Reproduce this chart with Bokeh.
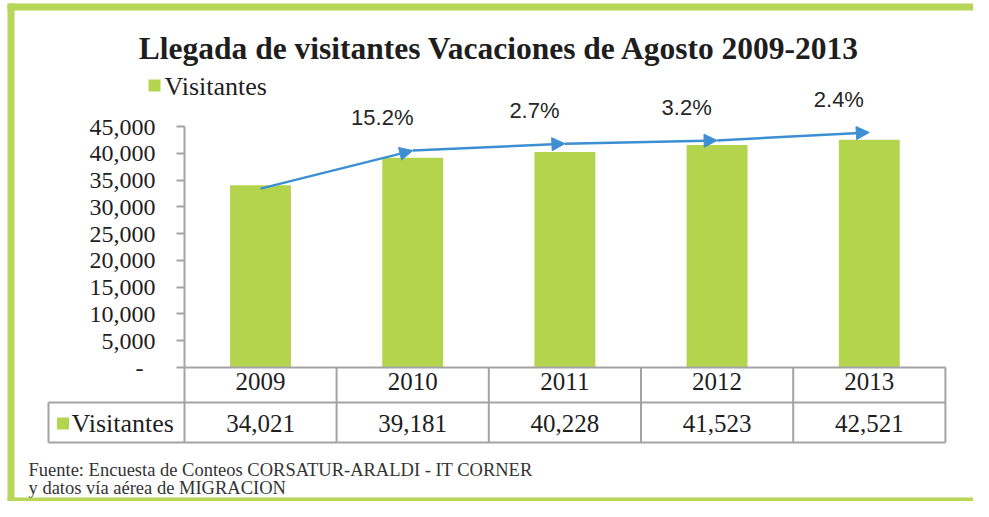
from bokeh.plotting import figure
from bokeh.models import Range1d, FixedTicker, NumeralTickFormatter, Arrow, NormalHead, ColumnDataSource
from bokeh.core.properties import value
from bokeh.embed import file_html
from bokeh.resources import INLINE

# ---------------- data ----------------
years = ["2009", "2010", "2011", "2012", "2013"]
visitors = [34021, 39181, 40228, 41523, 42521]
trend = [33400, 40500, 41800, 42400, 43900]          # arrow path
y_ticks = [0, 5000, 10000, 15000, 20000, 25000, 30000, 35000, 40000, 45000]
series_name = "Visitantes"
title_text = "Llegada de visitantes  Vacaciones de Agosto 2009-2013"
source_lines = ["Fuente: Encuesta de Conteos CORSATUR-ARALDI - IT CORNER",
                "y datos vía aérea de MIGRACION"]

idx = list(range(len(years)))
pct = [f"{(visitors[i] / visitors[i - 1] - 1) * 100:.1f}%" for i in range(1, len(visitors))]

# ---------------- layout helpers (pixel -> data) ----------------
W, H = 973, 501
X0, DX = 260.0, 152.2
Y0, KY = 367.0, 241.0 / 45000.0


def dx(px):
    return (px - X0) / DX


def dy(py):
    return (Y0 - py) / KY


def ly(n):
    return n / KY


GREEN = "#b5d44e"
BORDER = "#b8d657"
BLUE = "#3d8fd3"
GRAY = "#a3a3a3"
TXT = "#1e1e1e"
SERIF = "Liberation Serif"

p = figure(width=W, height=H, output_backend="svg", toolbar_location=None,
           x_range=Range1d(dx(0), dx(W)), y_range=Range1d(dy(H), dy(0)),
           min_border=0)
p.title.visible = False
p.outline_line_color = None
p.grid.visible = False
p.background_fill_color = "white"

# y axis
ya = p.yaxis[0]
ya.fixed_location = dx(184)
ya.ticker = FixedTicker(ticks=y_ticks)
ya.formatter = NumeralTickFormatter(format="0,0")
ya.major_label_overrides = {0: "-\u2007"}
ya.bounds = (0, 45000)
ya.axis_line_color = GRAY
ya.axis_line_width = 2
ya.major_tick_line_color = GRAY
ya.major_tick_line_width = 2
ya.major_tick_out = 8
ya.major_tick_in = 0
ya.minor_tick_line_color = None
ya.major_label_standoff = 21
ya.major_label_text_font = SERIF
ya.major_label_text_font_size = "24px"
ya.major_label_text_color = TXT

# x axis = year row of the table
xa = p.xaxis[0]
xa.fixed_location = 0
xa.ticker = FixedTicker(ticks=idx)
xa.major_label_overrides = {i: y for i, y in zip(idx, years)}
xa.bounds = (dx(184), len(years) - 0.5)
xa.axis_line_color = GRAY
xa.axis_line_width = 2
xa.major_tick_line_color = None
xa.minor_tick_line_color = None
xa.major_tick_out = 0
xa.major_tick_in = 0
xa.major_label_standoff = 5
xa.major_label_text_font = SERIF
xa.major_label_text_font_size = "25px"
xa.major_label_text_color = TXT

# bars
p.vbar(x=idx, top=visitors, width=0.4, fill_color=GREEN, line_color=None)

# trend arrows
src = ColumnDataSource(dict(x0=idx[:-1], y0=trend[:-1], x1=idx[1:], y1=trend[1:]))
p.add_layout(Arrow(x_start="x0", y_start="y0", x_end="x1", y_end="y1", source=src,
                   line_color=BLUE, line_width=2.5,
                   end=NormalHead(size=13, fill_color=BLUE, line_color=BLUE, line_width=1)))

# percent labels
p.text(x=[i - 0.2 for i in idx[1:]], y=[trend[i] + ly(33) for i in idx[1:]], text=pct,
       text_font=value("Liberation Sans"), text_font_size="22px", text_color="#262626",
       text_align="center", text_baseline="middle")

# table grid
x_left = dx(48)
x_right = len(years) - 0.5
y_mid = dy(402)
y_bot = dy(442)
sx0 = [x_left, x_left, x_left] + [i + 0.5 for i in idx]
sx1 = [x_right, x_right, x_left] + [i + 0.5 for i in idx]
sy0 = [y_mid, y_bot, y_mid] + [0] * len(idx)
sy1 = [y_mid, y_bot, y_bot] + [y_bot] * len(idx)
p.segment(x0=sx0 + [dx(184)], y0=sy0 + [0], x1=sx1 + [dx(184)], y1=sy1 + [y_bot],
          line_color=GRAY, line_width=2)

# table value row
p.text(x=idx, y=[dy(423)] * len(idx), text=[f"{v:,}" for v in visitors],
       text_font=value(SERIF), text_font_size="25px", text_color=TXT,
       text_align="center", text_baseline="middle")
p.scatter(x=[dx(62.5)], y=[dy(423)], marker="square", size=12, fill_color=GREEN, line_color=None)
p.text(x=[dx(71)], y=[dy(423)], text=[series_name], text_font=value(SERIF),
       text_font_size="26px", text_color=TXT, text_align="left", text_baseline="middle")

# legend
p.scatter(x=[dx(154)], y=[dy(85)], marker="square", size=12, fill_color=GREEN, line_color=None)
p.text(x=[dx(164)], y=[dy(86)], text=[series_name], text_font=value(SERIF),
       text_font_size="26px", text_color=TXT, text_align="left", text_baseline="middle")

# title
p.text(x=[dx(503)], y=[dy(48)], text=[title_text], text_font=value(SERIF),
       text_font_style="bold", text_font_size="31.5px", text_color=TXT,
       text_align="center", text_baseline="middle")

# source note
p.text(x=[dx(28)] * 2, y=[dy(469), dy(487)], text=source_lines, text_font=value(SERIF),
       text_font_size="18.5px", text_color="#333333", text_align="left", text_baseline="middle")

# green frame (top, left, bottom)
p.quad(left=[dx(7), dx(7), dx(7)], right=[dx(W), dx(14), dx(W)],
       top=[dy(3), dy(3), dy(H - 4)], bottom=[dy(10), dy(H), dy(H)],
       fill_color=BORDER, line_color=None)

open("out.html", "w").write(file_html(p, INLINE))
